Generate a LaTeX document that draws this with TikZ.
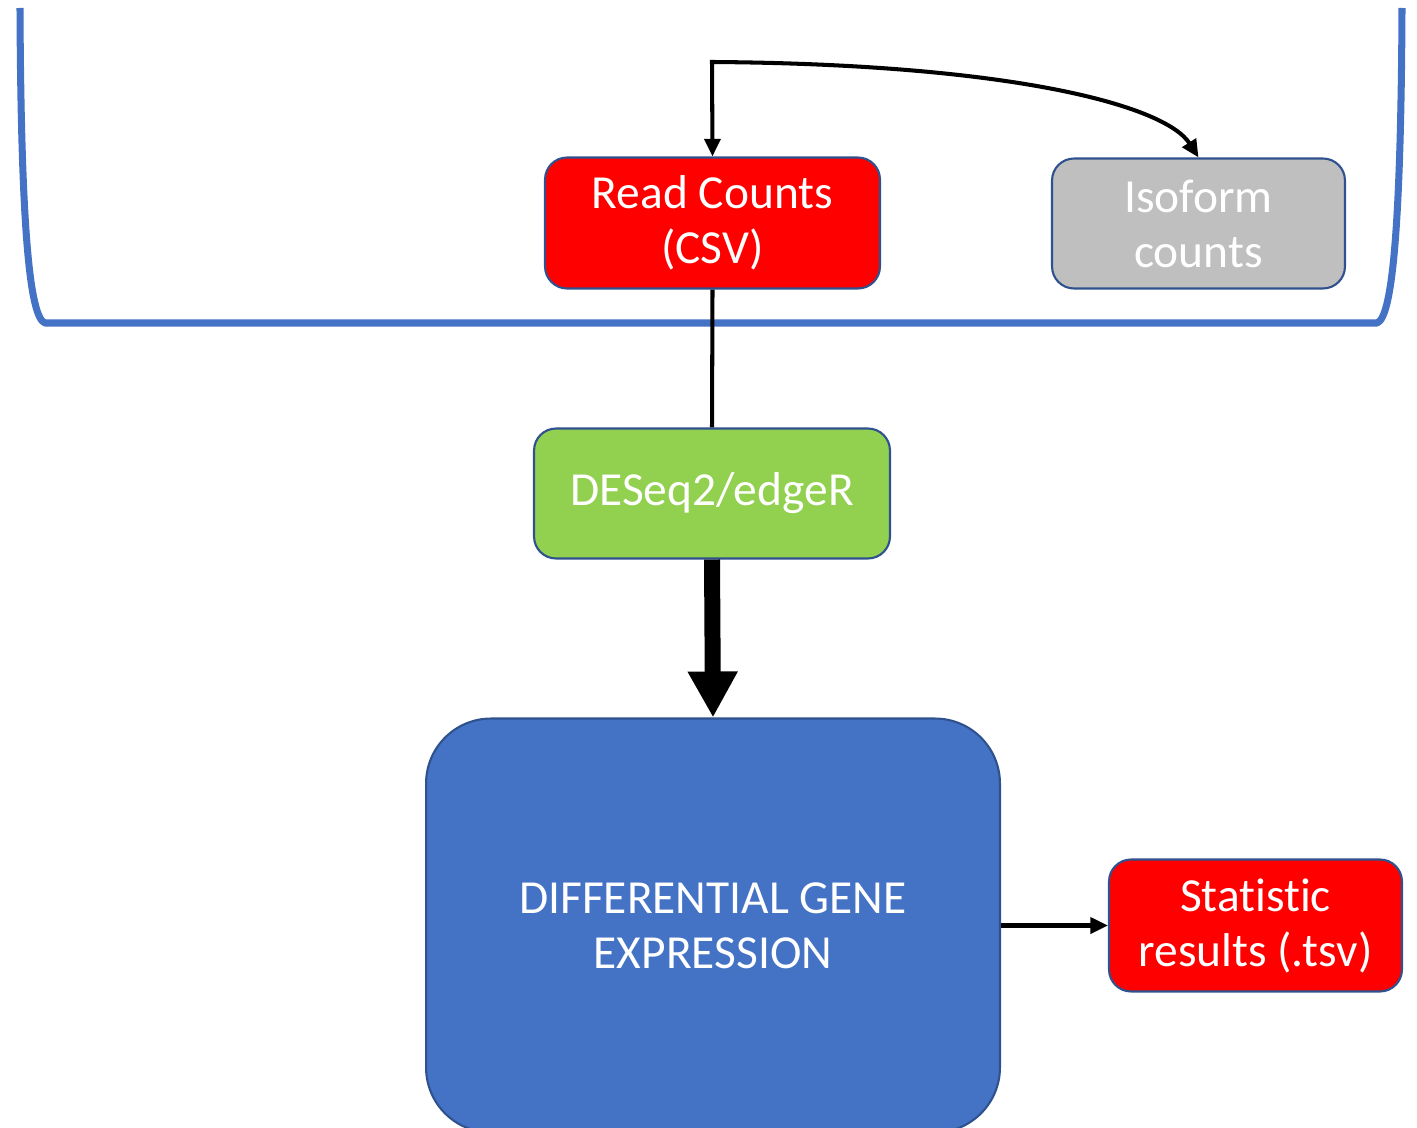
\documentclass[tikz,border=0pt]{standalone}
\usepackage{fontspec}
\setmainfont{Carlito}[Ligatures=NoCommon]
\usetikzlibrary{arrows.meta}
\definecolor{boxedge}{HTML}{2F528F}
\definecolor{blueacc}{HTML}{4472C4}
\definecolor{greenbox}{HTML}{92D050}
\definecolor{greybox}{HTML}{BFBFBF}
\definecolor{redbox}{HTML}{FF0000}
\begin{document}
\begin{tikzpicture}[x=0.02cm,y=-0.02cm,
  box/.style={draw=boxedge,line width=1.2pt,rounded corners=0.44cm,inner sep=0pt,
    align=center,text=white,font=\fontsize{27}{31.3}\selectfont},
  link/.style={draw=black,line width=2.3pt},
  tip/.style={-{Triangle[width=9pt,length=10pt]}}]
\useasboundingbox (0,0) rectangle (1417,1128);
\clip (0,0) rectangle (1417,1128);

% container bracket
\draw[blueacc,line width=4pt,line join=round]
  (20,8) .. controls (21,230) and (30,318) .. (45,323)
  -- (1377,323) .. controls (1392,318) and (1401,230) .. (1402,8);

% boxes
\node[box,fill=redbox,minimum width=6.7cm,minimum height=2.62cm] (rc) at (712.5,223) {Read Counts\\(CSV)};
\node[box,fill=greybox,minimum width=5.86cm,minimum height=2.6cm] (iso) at (1198.5,223.5) {Isoform\\counts};
\node[box,fill=greenbox,minimum width=7.12cm,minimum height=2.6cm] (de) at (712,493.5) {DESeq2/edgeR};
\node[box,fill=blueacc,rounded corners=1.3cm,minimum width=11.48cm,minimum height=8.28cm] (dge) at (713,925.5) {DIFFERENTIAL GENE\\EXPRESSION};
\node[box,fill=redbox,minimum width=5.86cm,minimum height=2.64cm] (st) at (1255.5,925.5) {Stat\kern0pt ist\kern0pt ic\\results (.tsv)};

% connectors
\coordinate (split) at (712,62);
\draw[link,{Triangle[width=9pt,length=10pt]}-{Triangle[width=9pt,length=10pt]},line join=miter]
  (rc.north) -- (split) .. controls (1010,64) and (1165,105) .. (iso.north);
\draw[link] (rc.south) -- (de.north);
\draw[draw=black,line width=9.1pt,-{Triangle[width=26.7pt,length=26.2pt]}] (de.south) -- (dge.north);
\draw[link,tip] (dge.east |- st.west) -- (st.west);
\end{tikzpicture}
\end{document}
